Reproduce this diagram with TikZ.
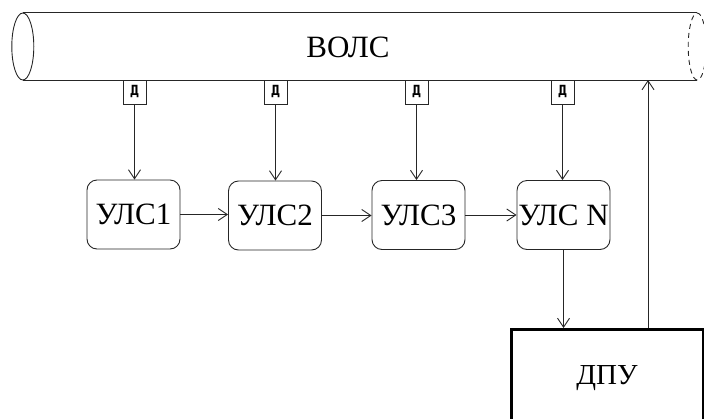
\documentclass[tikz,border=0pt]{standalone}
\usepackage{fontspec}
\setmainfont{Liberation Serif}
\newfontfamily\dmono{DejaVu Sans Mono}
\usetikzlibrary{arrows.meta}
\begin{document}
\begin{tikzpicture}[x=1pt,y=-1pt,
  line/.style={draw=black!85, line width=0.9pt},
  arr/.style={line, -{Straight Barb[length=9pt,width=12pt,line width=0.9pt]}},
  sensor/.style={draw=black!85, line width=0.9pt, minimum width=23pt, minimum height=24pt, inner sep=0pt, font=\dmono\bfseries\fontsize{14}{14}\selectfont},
  ulsbox/.style={draw=black!85, line width=0.9pt, rounded corners=10pt, minimum width=93pt, minimum height=69pt, inner sep=0pt, font=\fontsize{31}{31}\selectfont},
  dpubox/.style={draw=black, line width=3.2pt, minimum width=192pt, minimum height=94pt, inner sep=0pt, font=\fontsize{29}{29}\selectfont}
]
\useasboundingbox (0,0) rectangle (704,418);
% cable (ВОЛС)
\node[inner sep=0pt, minimum width=674pt, minimum height=67pt] (volc) at (360,46.5) {};
\draw[line] (volc.north west) -- (volc.north east);
\draw[line] (volc.south west) -- (volc.south east);
\draw[line] (volc.west) ellipse[x radius=11,y radius=33.5];
\draw[line, dashed, dash pattern=on 5pt off 4pt] (volc.east) ellipse[x radius=9,y radius=33.5];
\node[font=\fontsize{31}{31}\selectfont] (volctext) at (348,47) {ВОЛС};
% sensors
\node[sensor, anchor=north] (d1) at (134.5,79.5) {Д};
\node[sensor, anchor=north] (d2) at (275.5,79.5) {Д};
\node[sensor, anchor=north] (d3) at (416.5,79.5) {Д};
\node[sensor, anchor=north] (d4) at (562.5,79.5) {Д};
% УЛС boxes
\node[ulsbox] (u1) at (133.5,214.5) {УЛС1};
\node[ulsbox] (u2) at (275,215.5) {УЛС2};
\node[ulsbox] (u3) at (418.5,215) {УЛС3};
\node[ulsbox] (u4) at (563.5,215) {УЛС N};
% ДПУ
\node[dpubox, anchor=north west] (dpu) at (510,328) {};
\node[font=\fontsize{29}{29}\selectfont] (dputext) at (607,378) {ДПУ};
% connectors
\draw[arr] (d1.south) -- (d1.south |- u1.north);
\draw[arr] (d2.south) -- (d2.south |- u2.north);
\draw[arr] (d3.south) -- (d3.south |- u3.north);
\draw[arr] (d4.south) -- (d4.south |- u4.north);
\draw[arr] (u1.east) -- (u1.east -| u2.west);
\draw[arr] (u2.east) -- (u2.east -| u3.west);
\draw[arr] (u3.east) -- (u3.east -| u4.west);
\draw[arr] (u4.south) -- (u4.south |- dpu.north);
\coordinate (upend) at (648,80);
\draw[arr] (upend |- dpu.north) -- (upend);
\end{tikzpicture}
\end{document}
